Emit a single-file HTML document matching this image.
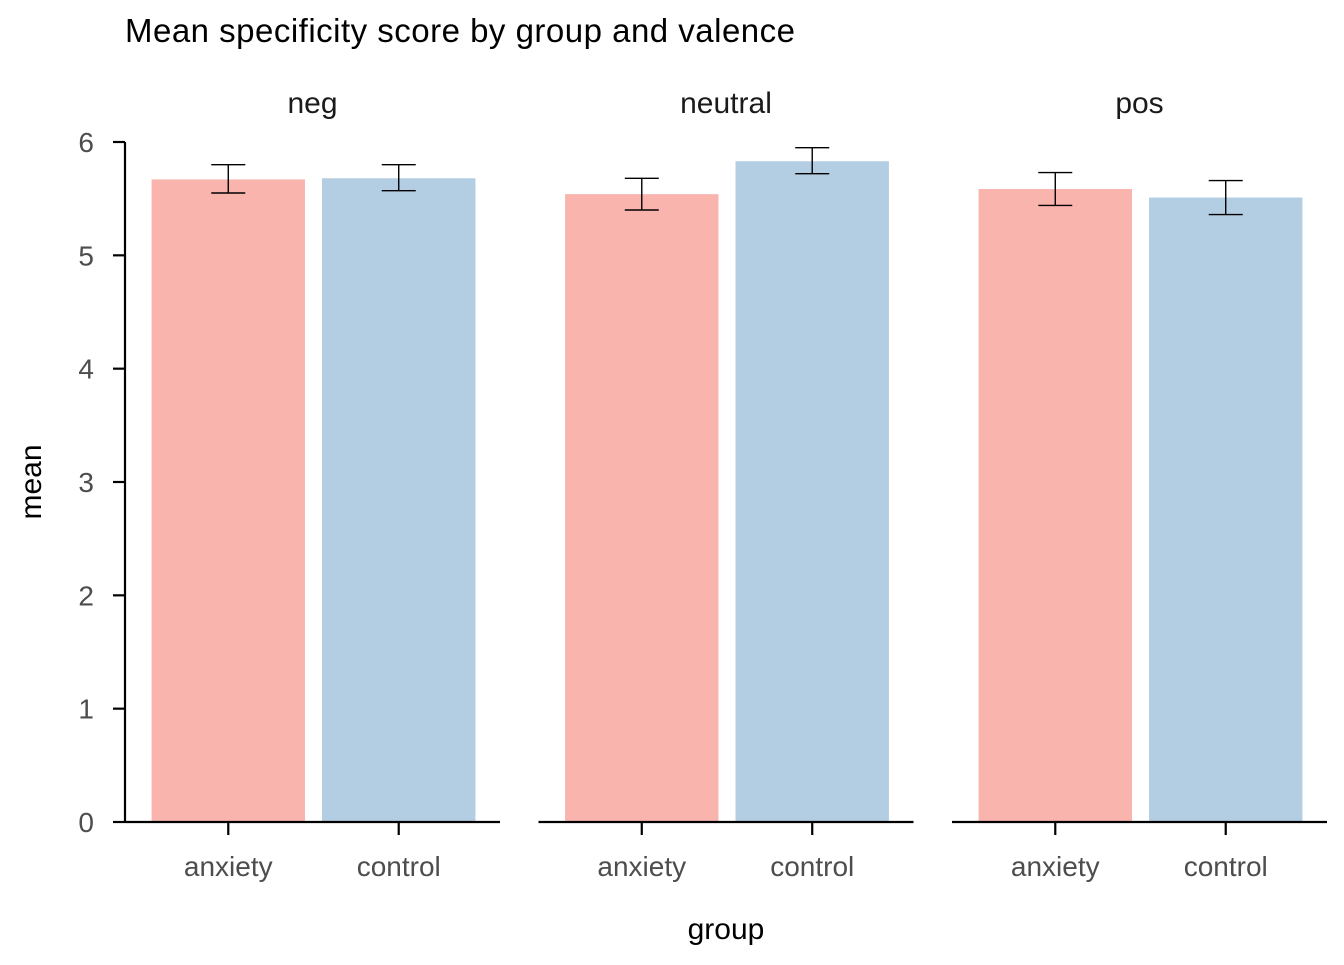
<!DOCTYPE html>
<html><head><meta charset="utf-8"><style>
body{margin:0;background:#fff}
svg text{font-family:"Liberation Sans",Arial,sans-serif}
</style></head><body>
<svg id="chart" width="1344" height="960">
<text x="125" y="42" font-size="33" fill="#000" textLength="670">Mean specificity score by group and valence</text>
<text transform="translate(41,482) rotate(-90)" text-anchor="middle" font-size="30" fill="#000">mean</text>
<text x="726" y="939" text-anchor="middle" font-size="30" fill="#000">group</text>
<g id="plot"></g>
</svg>
<script>
const panels=["neg","neutral","pos"];
const groups=["anxiety","control"];
const means=[[5.67,5.68],[5.54,5.83],[5.585,5.51]];
const errLo=[[5.55,5.57],[5.40,5.72],[5.44,5.36]];
const errHi=[[5.80,5.80],[5.68,5.95],[5.73,5.66]];
const yTicks=[0,1,2,3,4,5,6];
const colors=["#F9B4AE","#B3CDE3"];
const NS="http://www.w3.org/2000/svg";
const g=document.getElementById("plot");
const y0=822,yTop=142,yMax=6;
const y=v=>y0-(y0-yTop)*v/yMax;
const panelX=[125,538.5,952],pw=375,unit=pw/2.2;
const x=(p,i)=>panelX[p]+(i+0.6)*unit+1;
function el(t,a,txt){const e=document.createElementNS(NS,t);for(const k in a)e.setAttribute(k,a[k]);if(txt!==undefined)e.textContent=txt;g.appendChild(e);return e;}
let e=el("line",{x1:125,x2:125,y1:y(0),y2:y(6),stroke:"#000","stroke-width":2.2});


yTicks.forEach(t=>{
 let l=el("line",{x1:113,x2:125,y1:y(t),y2:y(t),stroke:"#000","stroke-width":2.2});
 
 
 let tx=el("text",{x:94,y:y(t)+10,"text-anchor":"end","font-size":28,fill:"#4d4d4d"},t);
 
 
});
panels.forEach((p,pi)=>{
 let st=el("text",{x:panelX[pi]+pw/2,y:113,"text-anchor":"middle","font-size":30,fill:"#1a1a1a"},p);
 
 
 groups.forEach((gr,gi)=>{
  const cx=x(pi,gi),bw=0.9*unit;
  let b=el("rect",{x:cx-bw/2,y:y(means[pi][gi]),width:bw,height:y(0)-y(means[pi][gi]),fill:colors[gi]});
  
  
  const hw=17;
  [[cx,y(errLo[pi][gi]),cx,y(errHi[pi][gi])],[cx-hw,y(errLo[pi][gi]),cx+hw,y(errLo[pi][gi])],[cx-hw,y(errHi[pi][gi]),cx+hw,y(errHi[pi][gi])]].forEach(c=>{
   let l=el("line",{x1:c[0],y1:c[1],x2:c[2],y2:c[3],stroke:"#000","stroke-width":1.4});
   
   
  });
  let tk=el("line",{x1:cx,x2:cx,y1:y0,y2:y0+13,stroke:"#000","stroke-width":2.2});
  
  
  let lb=el("text",{x:cx,y:876,"text-anchor":"middle","font-size":28,fill:"#4d4d4d"},gr);
  
  
 });
 let ax=el("line",{x1:panelX[pi],x2:panelX[pi]+pw,y1:y0,y2:y0,stroke:"#000","stroke-width":2.2});
 
 
});
</script>
</body></html>
